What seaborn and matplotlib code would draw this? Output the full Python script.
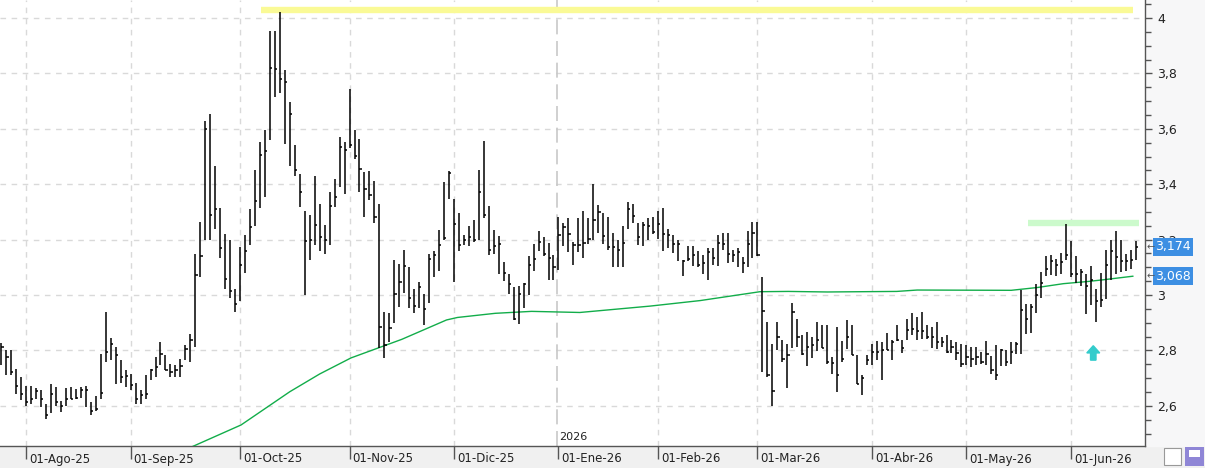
import matplotlib
matplotlib.use("Agg")
import matplotlib.pyplot as plt
import matplotlib.transforms as mtransforms
from matplotlib.patches import Rectangle
import seaborn as sns
import pandas as pd
import numpy as np

# ---------------- data ----------------
highs = [
    2.826, 2.80, 2.80, 2.734, 2.704, 2.67, 2.67, 2.666, 2.656, 2.608,
    2.68, 2.668, 2.618, 2.666, 2.668, 2.662, 2.668, 2.67, 2.614, 2.635,
    2.786, 2.94, 2.846, 2.814, 2.764, 2.728, 2.716, 2.683, 2.656, 2.713,
    2.734, 2.778, 2.83, 2.782, 2.75, 2.746, 2.77, 2.818, 2.86,
    3.148, 3.263, 3.627, 3.654, 3.464, 3.314, 3.22, 3.197, 3.022, 3.175,
    3.215, 3.311, 3.452, 3.554, 3.594, 3.952, 3.954, 4.023, 3.812, 3.696,
    3.543, 3.437, 3.302, 3.29, 3.431, 3.327, 3.254, 3.373, 3.419, 3.572,
    3.554, 3.744, 3.594, 3.563, 3.443, 3.446, 3.41, 3.329, 2.938, 2.936,
    3.128, 3.113, 3.161, 3.10, 3.02, 3.048, 3.002, 3.149, 3.158, 3.236,
    3.408, 3.449, 3.348, 3.296, 3.218, 3.248, 3.272, 3.452, 3.557, 3.32,
    3.233, 3.212, 3.119, 3.077, 3.029, 3.032, 3.042, 3.14, 3.185, 3.23,
    3.209, 3.188, 3.144, 3.281, 3.26, 3.278, 3.192, 3.278,
    3.305, 3.279, 3.402, 3.326, 3.295, 3.283, 3.224, 3.20, 3.248, 3.335,
    3.329, 3.26, 3.263, 3.279, 3.283, 3.302, 3.314, 3.24, 3.216, 3.20,
    3.126, 3.176, 3.176, 3.16, 3.144, 3.171, 3.171, 3.216, 3.224, 3.224,
    3.162, 3.168, 3.136, 3.231, 3.263, 3.263,
    3.066, 2.902, 2.824, 2.904, 2.836, 2.822, 2.97, 2.914, 2.854, 2.866,
    2.85, 2.902, 2.89, 2.89, 2.776, 2.886, 2.834, 2.91, 2.893, 2.782,
    2.71, 2.782, 2.822, 2.834, 2.83, 2.862, 2.836, 2.89, 2.838, 2.914,
    2.934, 2.922, 2.938, 2.89, 2.886, 2.902, 2.848, 2.854, 2.838, 2.83,
    2.822, 2.818, 2.814, 2.814, 2.794, 2.833, 2.78, 2.818, 2.806, 2.80,
    2.83, 2.83, 3.017, 2.966, 2.969, 3.039, 3.083, 3.14, 3.143, 3.131,
    3.152, 3.255, 3.195, 3.14, 3.095, 3.077, 3.104, 3.023, 3.08, 3.161,
    3.20, 3.231, 3.20, 3.149, 3.164, 3.195,
]
lows = [
    2.749, 2.71, 2.71, 2.641, 2.62, 2.60, 2.606, 2.623, 2.596, 2.554,
    2.573, 2.60, 2.578, 2.599, 2.623, 2.623, 2.63, 2.594, 2.566, 2.582,
    2.626, 2.758, 2.764, 2.68, 2.683, 2.668, 2.656, 2.608, 2.606, 2.623,
    2.692, 2.704, 2.746, 2.728, 2.704, 2.704, 2.704, 2.764, 2.758,
    2.812, 3.064, 3.199, 3.199, 3.238, 3.134, 3.022, 2.99, 2.938, 2.978,
    3.079, 3.18, 3.25, 3.314, 3.353, 3.56, 3.714, 3.728, 3.545, 3.466,
    3.43, 3.319, 3.0, 3.127, 3.18, 3.16, 3.148, 3.18, 3.317, 3.391,
    3.365, 3.531, 3.491, 3.371, 3.281, 3.343, 3.259, 2.809, 2.773, 2.83,
    2.90, 2.957, 3.008, 2.954, 2.936, 2.952, 2.892, 2.972, 3.066, 3.086,
    3.20, 3.348, 3.048, 3.158, 3.18, 3.176, 3.192, 3.197, 3.278, 3.146,
    3.149, 3.077, 3.05, 3.002, 2.909, 2.897, 2.952, 3.0, 3.086, 3.158,
    3.14, 3.056, 3.056, 3.089, 3.176, 3.156, 3.108, 3.156,
    3.132, 3.183, 3.20, 3.224, 3.183, 3.162, 3.10, 3.10, 3.10, 3.24,
    3.26, 3.18, 3.176, 3.20, 3.221, 3.204, 3.16, 3.171, 3.15, 3.124,
    3.069, 3.124, 3.105, 3.10, 3.076, 3.055, 3.108, 3.105, 3.164, 3.114,
    3.12, 3.10, 3.081, 3.10, 3.132, 3.14,
    2.722, 2.704, 2.60, 2.80, 2.758, 2.666, 2.81, 2.812, 2.782, 2.743,
    2.774, 2.798, 2.81, 2.75, 2.716, 2.65, 2.758, 2.806, 2.784, 2.68,
    2.64, 2.746, 2.746, 2.766, 2.692, 2.80, 2.764, 2.834, 2.79, 2.838,
    2.857, 2.838, 2.842, 2.842, 2.81, 2.806, 2.814, 2.79, 2.79, 2.765,
    2.74, 2.746, 2.74, 2.746, 2.75, 2.746, 2.716, 2.694, 2.742, 2.742,
    2.752, 2.786, 2.786, 2.858, 2.863, 2.935, 2.99, 3.067, 3.071, 3.067,
    3.077, 3.125, 3.065, 3.043, 3.031, 2.933, 2.963, 2.902, 2.957, 2.987,
    3.053, 3.077, 3.083, 3.087, 3.095, 3.128,
]
closes = [
    2.812, 2.776, 2.722, 2.673, 2.644, 2.614, 2.626, 2.653, 2.623, 2.566,
    2.644, 2.614, 2.60, 2.623, 2.626, 2.63, 2.656, 2.658, 2.58, 2.59,
    2.647, 2.794, 2.824, 2.782, 2.704, 2.706, 2.674, 2.626, 2.638, 2.644,
    2.73, 2.74, 2.788, 2.728, 2.722, 2.728, 2.742, 2.806, 2.836,
    3.074, 3.142, 3.60, 3.29, 3.31, 3.17, 3.058, 3.013, 2.968, 3.109,
    3.16, 3.245, 3.34, 3.506, 3.52, 3.82, 3.816, 3.78, 3.768, 3.653,
    3.452, 3.371, 3.194, 3.20, 3.254, 3.208, 3.20, 3.323, 3.355, 3.533,
    3.524, 3.543, 3.503, 3.455, 3.383, 3.361, 3.283, 2.884, 2.82, 2.88,
    3.002, 3.048, 3.104, 2.988, 2.96, 3.029, 2.948, 3.13, 3.146, 3.18,
    3.206, 3.44, 3.258, 3.18, 3.20, 3.209, 3.20, 3.372, 3.29, 3.164,
    3.176, 3.185, 3.08, 3.038, 2.912, 3.005, 3.038, 3.11, 3.131, 3.192,
    3.149, 3.134, 3.10, 3.218, 3.245, 3.22, 3.18, 3.18,
    3.186, 3.204, 3.271, 3.30, 3.212, 3.174, 3.174, 3.162, 3.188, 3.311,
    3.287, 3.21, 3.251, 3.248, 3.227, 3.257, 3.221, 3.216, 3.183, 3.183,
    3.124, 3.129, 3.144, 3.108, 3.114, 3.156, 3.132, 3.186, 3.183, 3.148,
    3.144, 3.156, 3.114, 3.183, 3.224, 3.144,
    2.944, 2.71, 2.653, 2.85, 2.77, 2.782, 2.938, 2.85, 2.786, 2.812,
    2.818, 2.838, 2.81, 2.758, 2.754, 2.71, 2.77, 2.848, 2.784, 2.68,
    2.70, 2.766, 2.794, 2.794, 2.802, 2.802, 2.83, 2.836, 2.81, 2.872,
    2.878, 2.87, 2.87, 2.85, 2.848, 2.83, 2.83, 2.794, 2.814, 2.79,
    2.75, 2.778, 2.77, 2.776, 2.758, 2.786, 2.728, 2.71, 2.80, 2.758,
    2.794, 2.824, 2.947, 2.914, 2.957, 2.999, 3.043, 3.095, 3.123, 3.107,
    3.119, 3.143, 3.077, 3.077, 3.083, 3.031, 3.053, 2.978, 2.983, 3.11,
    3.159, 3.137, 3.123, 3.123, 3.128, 3.174,
]

# moving average (read at points along its path)
ma_idx = [38.3, 48.2, 58.0, 64.0, 70.3, 80.5, 89.5, 91.7, 99.3, 106.6, 116.3,
          130.4, 140.5, 152.5, 158.2, 166.0, 180.0, 184.1, 203.0, 208.2,
          213.5, 218.5, 221.5, 227.5]
ma_val = [2.452, 2.531, 2.651, 2.715, 2.773, 2.84, 2.910, 2.919, 2.934, 2.941,
          2.937, 2.96, 2.98, 3.012, 3.013, 3.011, 3.013, 3.018, 3.017, 3.027,
          3.041, 3.049, 3.055, 3.068]

month_idx = [5, 26, 48, 70, 91, 112, 132, 152, 175, 194, 215]
month_labels = ['01-Ago-25', '01-Sep-25', '01-Oct-25', '01-Nov-25', '01-Dic-25',
                '01-Ene-26', '01-Feb-26', '01-Mar-26', '01-Abr-26', '01-May-26',
                '01-Jun-26']
year_idx = 111.8
year_label = '2026'

y_ticks = [2.6, 2.8, 3.0, 3.2, 3.4, 3.6, 3.8, 4.0]

resist_hi = 4.029
resist_hi_span = (52.2, 227.5)
resist_lo = 3.26
resist_lo_span = (206.4, 228.6)
arrow_idx = 219.5
arrow_val = 2.765

last_close = 3.174
last_ma = 3.068
label_texts = ['3,174', '3,068']

# ---------------- drawing ----------------
sns.set_theme(style="white")
plt.rcParams['font.family'] = ['DejaVu Sans']

W, H = 1205, 468
fig = plt.figure(figsize=(W / 100, H / 100), dpi=100, facecolor='#f0f0f0')
# right panel background (behind everything)
fig.patches.append(Rectangle((1146 / W, 22 / H), (W - 1146) / W, (H - 22) / H,
                             transform=fig.transFigure, color='#f7f7f8',
                             zorder=-10))
ax = fig.add_axes([0, 22 / H, 1145 / W, 446 / H])
ax.set_facecolor('white')

n = len(closes)
x = np.arange(n)
df = pd.DataFrame({'idx': x, 'high': highs, 'low': lows, 'close': closes})

# grid
for v in y_ticks:
    ax.axhline(v, color='#d9d9d9', lw=1.0, ls=(0, (4, 4)), zorder=1)
for m in month_idx:
    if m == 112:
        continue
    ax.axvline(m, color='#d9d9d9', lw=1.0, ls=(0, (4, 4)), zorder=1)
ax.axvline(year_idx, color='#c8c8c8', lw=1.2, ls=(0, (9, 4)), zorder=1)

# resistance bands
ax.hlines(resist_hi, *resist_hi_span, color='#fafa96', lw=4.6, zorder=2)
ax.hlines(resist_lo, *resist_lo_span, color='#ccfacc', lw=4.6, zorder=2)

# moving average
ma_df = pd.DataFrame({'idx': ma_idx, 'ma': ma_val})
sns.lineplot(data=ma_df, x='idx', y='ma', color='#12ad4a', lw=1.0, ax=ax,
             zorder=3, legend=False)

# OHLC bars
ax.vlines(df['idx'], df['low'], df['high'], color='black', lw=1.1, zorder=4)
ax.hlines(df['close'], df['idx'], df['idx'] + 0.45, color='black', lw=1.1, zorder=4)

# arrow signal
ax.arrow(arrow_idx, arrow_val, 0, 0.052, width=1.1, head_width=2.6,
         head_length=0.026, length_includes_head=True, color='#33cccc',
         zorder=5)

ax.set_xlim(-0.26, 229.9)
ax.set_ylim(2.455, 4.065)
ax.set_xlabel('')
ax.set_ylabel('')

# axes styling
for s in ['top', 'left']:
    ax.spines[s].set_visible(False)
for s in ['right', 'bottom']:
    ax.spines[s].set_color('#555555')
    ax.spines[s].set_linewidth(1.0)

ax.yaxis.tick_right()
ax.set_yticks(y_ticks)
ax.set_yticklabels([('%g' % v).replace('.', ',') for v in y_ticks],
                   fontsize=9, color='#222222')
ax.set_yticks(np.arange(2.5, 4.06, 0.05), minor=True)
ax.tick_params(axis='y', which='major', direction='out', length=5, width=1,
               color='#555555', pad=4, right=True, left=False,
               labelright=True, labelleft=False)
ax.tick_params(axis='y', which='minor', direction='out', length=4, width=1,
               color='#555555', right=True, left=False)

ax.set_xticks(month_idx)
ax.set_xticklabels([''] * len(month_idx))
ax.tick_params(axis='x', which='major', direction='out', length=9, width=1,
               color='#555555', bottom=True)

xt = mtransforms.blended_transform_factory(ax.transData, fig.transFigure)
for m, lab in zip(month_idx, month_labels):
    ax.text(m + 0.6, 9 / H, lab, transform=xt, fontsize=8.5, color='#222222',
            ha='left', va='center', clip_on=False)
ax.text(year_idx + 0.4, 31 / H, year_label, transform=xt, fontsize=8,
        color='#222222', ha='left', va='center')

# price labels on the right axis
yt = mtransforms.blended_transform_factory(fig.transFigure, ax.transData)
for val, txt in zip([last_close, last_ma], label_texts):
    fig.text(1155 / W, val, txt, transform=yt, fontsize=9, color='white',
             ha='left', va='center', zorder=10,
             bbox=dict(boxstyle='square,pad=0.18', fc='#3d8fe3', ec='none'))
    fig.text(1147 / W, val, '←', transform=yt, fontsize=7, color='#555555',
             ha='left', va='center', zorder=10)

# bottom-right icons
fig.patches.append(Rectangle((1164 / W, 3 / H), 17 / W, 17 / H,
                             transform=fig.transFigure, fc='white',
                             ec='#999999', lw=0.8, zorder=5))
fig.text(1172.5 / W, 11.5 / H, '≋', fontsize=9, color='#4a90d9',
         ha='center', va='center')
fig.patches.append(Rectangle((1185 / W, 2 / H), 19 / W, 19 / H,
                             transform=fig.transFigure, fc='#8f86d6',
                             ec='none', zorder=5))
fig.patches.append(Rectangle((1189 / W, 11 / H), 11 / W, 7 / H,
                             transform=fig.transFigure, fc='white',
                             ec='none', zorder=6))

fig.savefig('out.png', dpi=100, facecolor=fig.get_facecolor())
